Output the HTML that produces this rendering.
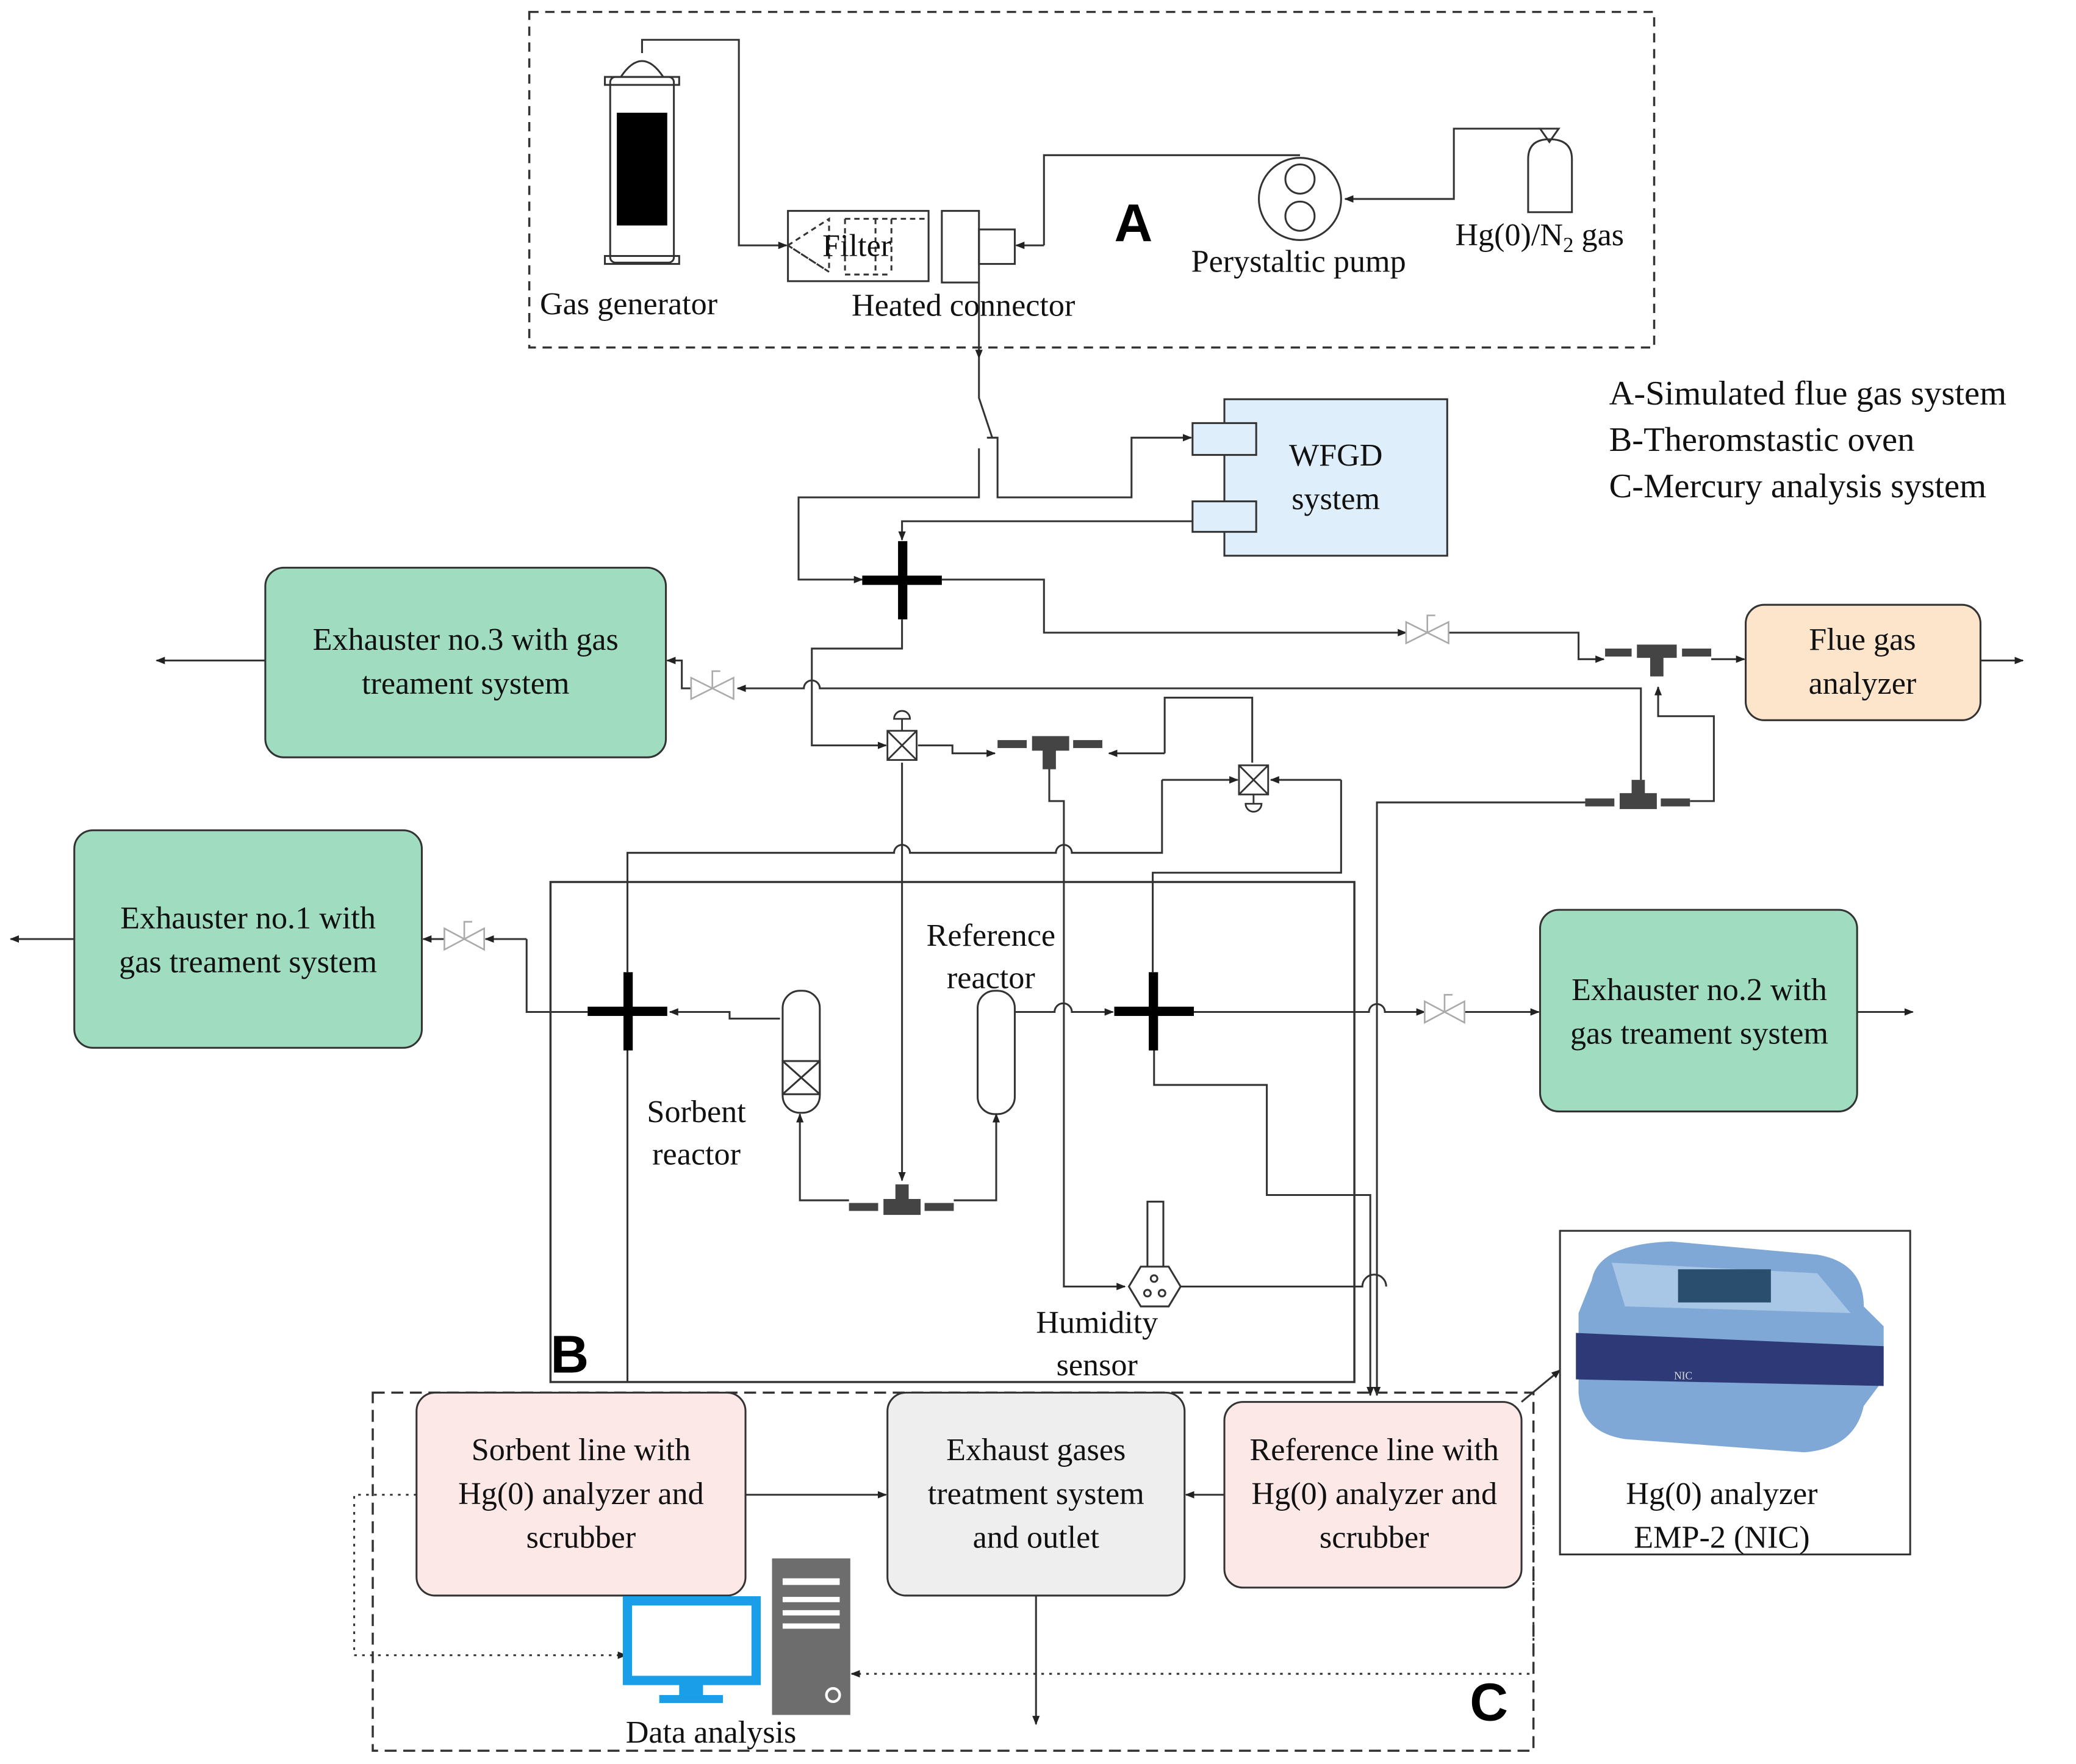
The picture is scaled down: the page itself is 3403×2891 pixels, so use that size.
<!DOCTYPE html>
<html><head><meta charset="utf-8"><style>
html,body{margin:0;padding:0;background:#fff;}
svg{display:block;}
.t text{font-family:"Liberation Serif","DejaVu Serif",serif;fill:#111;}
</style></head><body>
<svg width="3403" height="2891" viewBox="0 0 1565 1330" preserveAspectRatio="none" xmlns="http://www.w3.org/2000/svg">
<defs>
<marker id="a" viewBox="0 0 10 10" refX="9" refY="5" markerWidth="7" markerHeight="7" orient="auto" markerUnits="userSpaceOnUse"><path d="M0,1 L10,5 L0,9 z" fill="#222"/></marker>
</defs>
<g fill="none" stroke="#333" stroke-width="1.4">
<rect x="399" y="9" width="848" height="253" stroke-dasharray="7,5" stroke-width="1.6"/>
<rect x="460" y="58" width="48" height="140" rx="4"/>
<path d="M468,58 Q484,34 500,58"/>
<rect x="456" y="58" width="56" height="6"/><rect x="456" y="193" width="56" height="6"/>
<path d="M484,40 L484,30 L557,30 L557,185 L593,185" marker-end="url(#a)"/>
<rect x="594" y="159" width="106" height="53"/>
<path d="M594,185 L625,165 L625,205 Z M594,185 L625,205" stroke-dasharray="4,3"/>
<path d="M637,165 L637,207 M660,165 L660,207 M672,165 L672,207 M637,165 L700,165 M637,207 L672,207" stroke-dasharray="4,3"/>
<rect x="710" y="159" width="28" height="54"/>
<rect x="738" y="173" width="27" height="26"/>
<path d="M787,185 L766,185" marker-end="url(#a)"/>
<path d="M787,185 L787,117 L980,117"/>
<circle cx="980" cy="150" r="31"/>
<circle cx="980" cy="135" r="11"/><circle cx="980" cy="163" r="11"/>
<path d="M1152,160 L1152,120 Q1152,105 1168,105 Q1185,105 1185,120 L1185,160 Z"/>
<path d="M1161,97 L1175,97 L1168,107 Z"/>
<path d="M1161,97 L1096,97 L1096,150 L1014,150" marker-end="url(#a)"/>
<path d="M738,213 L738,270" marker-end="url(#a)"/>
<path d="M738,270 L738,300 L748,330"/>
<path d="M744,330 L752,330 L752,375 L853,375 L853,330 L898,330" marker-end="url(#a)"/>
<path d="M738,338 L738,375 L602,375 L602,437 L650,437" marker-end="url(#a)"/>
<rect x="923" y="301" width="168" height="118" fill="#deeefa"/>
<rect x="899" y="319" width="48" height="24" fill="#deeefa"/>
<rect x="899" y="378" width="48" height="23" fill="#deeefa"/>
<path d="M899,393 L680,393 L680,407" marker-end="url(#a)"/>
<path d="M710,437 L787,437 L787,477 L1060,477" marker-end="url(#a)"/>
<path d="M1092,477 L1190,477 L1190,497 L1209,497" marker-end="url(#a)"/>
<path d="M1290,497 L1315,497" marker-end="url(#a)"/>
<path d="M1493,498 L1525,498" marker-end="url(#a)"/>
<path d="M1237,588 L1237,519 L618,519 A6,6 0 0 0 606,519 L556,519" marker-end="url(#a)"/>
<path d="M521,519 L514,519 L514,498 L503,498" marker-end="url(#a)"/>
<path d="M200,498 L118,498" marker-end="url(#a)"/>
<path d="M680,467 L680,489 L612,489 L612,562 L668,562" marker-end="url(#a)"/>
<path d="M692,562 L718,562 L718,568 L750,568" marker-end="url(#a)"/>
<path d="M878,568 L878,526 L944,526 L944,575"/>
<path d="M878,568 L836,568" marker-end="url(#a)"/>
<path d="M791,578 L791,604 L802,604 L802,970 L848,970" marker-end="url(#a)"/>
<path d="M1011,588 L958,588" marker-end="url(#a)"/>
<path d="M1011,588 L1011,658 L869,658 L869,733"/>
<path d="M876,588 L933,588" marker-end="url(#a)"/>
<path d="M876,588 L876,643 L808,643 A6,6 0 0 0 796,643 L686,643 A6,6 0 0 0 674,643 L473,643 L473,733"/>
<path d="M680,575 L680,890" marker-end="url(#a)"/>
<path d="M1274,604 L1292,604 L1292,540 L1250,540 L1250,518" marker-end="url(#a)"/>
<path d="M1195,605 L1038,605 L1038,1052" marker-end="url(#a)"/>
<rect x="415" y="665" width="606" height="377" stroke-width="1.6"/>
<path d="M56,708 L8,708" marker-end="url(#a)"/>
<path d="M397,708 L366,708" marker-end="url(#a)"/>
<path d="M335,708 L319,708" marker-end="url(#a)"/>
<path d="M397,708 L397,763 L443,763"/>
<path d="M473,792 L473,1042"/>
<path d="M588,768 L550,768 L550,763 L505,763" marker-end="url(#a)"/>
<rect x="590" y="747" width="28" height="92" rx="13"/>
<rect x="590" y="800" width="28" height="25"/><path d="M590,800 L618,825 M618,800 L590,825"/>
<rect x="737" y="747" width="28" height="93" rx="13"/>
<path d="M765,763 L795,763 A6,6 0 0 1 808,763 L839,763" marker-end="url(#a)"/>
<path d="M640,905 L603,905 L603,840" marker-end="url(#a)"/>
<path d="M719,905 L751,905 L751,840" marker-end="url(#a)"/>
<path d="M900,763 L1032,763 A6,6 0 0 1 1044,763 L1074,763" marker-end="url(#a)"/>
<path d="M1104,763 L1160,763" marker-end="url(#a)"/>
<path d="M1400,763 L1442,763" marker-end="url(#a)"/>
<path d="M870,792 L870,818 L955,818 L955,901 L1033,901 L1033,1052" marker-end="url(#a)"/>
<rect x="865" y="906" width="12" height="50"/>
<path d="M851,970 L860,955 L881,955 L890,970 L881,985 L860,985 Z" fill="#fff"/>
<circle cx="870" cy="964" r="2.5"/><circle cx="865" cy="975" r="2.5"/><circle cx="876" cy="975" r="2.5"/>
<path d="M890,970 L1027,970 A6,6 0 0 1 1045,970"/>
<rect x="281" y="1050" width="875" height="270" stroke-dasharray="9,5" stroke-width="1.6"/>
<rect x="314" y="1050" width="248" height="153" rx="14" fill="#fde8e8"/>
<rect x="669" y="1050" width="224" height="153" rx="14" fill="#eeeeee"/>
<rect x="923" y="1057" width="224" height="140" rx="14" fill="#fde8e8"/>
<path d="M562,1127 L668,1127" marker-end="url(#a)"/>
<path d="M923,1127 L894,1127" marker-end="url(#a)"/>
<path d="M781,1203 L781,1300" marker-end="url(#a)"/>
<path d="M314,1127 L267,1127 L267,1248 L472,1248" stroke-dasharray="2,4" marker-end="url(#a)"/>
<path d="M1156,1127 L1156,1262 L642,1262" stroke-dasharray="2,4" marker-end="url(#a)"/>
<path d="M1147,1057 L1176,1033" marker-end="url(#a)"/>
<rect x="1176" y="928" width="264" height="244"/>
<rect x="200" y="428" width="302" height="143" rx="14" fill="#9fdcc0"/>
<rect x="56" y="626" width="262" height="164" rx="14" fill="#9fdcc0"/>
<rect x="1161" y="686" width="239" height="152" rx="14" fill="#9fdcc0"/>
<rect x="1316" y="456" width="177" height="87" rx="14" fill="#fde5cc"/>
</g>
<rect x="465" y="85" width="38" height="85" fill="#000"/>
<g fill="#000">
<rect x="650" y="434" width="60" height="7"/><rect x="677" y="408" width="7" height="59"/>
<rect x="443" y="759" width="60" height="7"/><rect x="470" y="733" width="7" height="59"/>
<rect x="840" y="759" width="60" height="7"/><rect x="866" y="733" width="7" height="59"/>
</g>
<g fill="#444">
<rect x="1210" y="489" width="20" height="6"/><rect x="1234" y="486" width="30" height="10"/><rect x="1268" y="489" width="22" height="6"/><rect x="1244" y="494" width="10" height="16"/>
<rect x="1195" y="602" width="22" height="6"/><rect x="1221" y="598" width="28" height="12"/><rect x="1252" y="602" width="22" height="6"/><rect x="1230" y="588" width="10" height="12"/>
<rect x="752" y="558" width="22" height="6"/><rect x="778" y="555" width="28" height="11"/><rect x="809" y="558" width="22" height="6"/><rect x="786" y="564" width="10" height="16"/>
<rect x="640" y="907" width="22" height="6"/><rect x="666" y="904" width="28" height="12"/><rect x="697" y="907" width="22" height="6"/><rect x="675" y="893" width="10" height="12"/>
</g>
<g fill="#fff" stroke="#aaa" stroke-width="1.2">
<path d="M1060,469 L1076,477 L1060,485 Z M1092,469 L1076,477 L1092,485 Z M1076,477 L1076,464 L1082,464"/>
<path d="M521,511 L537,519 L521,527 Z M553,511 L537,519 L553,527 Z M537,519 L537,506 L543,506"/>
<path d="M335,700 L350,708 L335,716 Z M365,700 L350,708 L365,716 Z M350,708 L350,695 L356,695"/>
<path d="M1074,755 L1089,763 L1074,771 Z M1104,755 L1089,763 L1104,771 Z M1089,763 L1089,750 L1095,750"/>
</g>
<g fill="#fff" stroke="#333" stroke-width="1.3">
<rect x="669" y="551" width="22" height="22"/><path d="M669,551 L691,573 M691,551 L669,573"/>
<path d="M680,551 L680,542"/><path d="M674,542 A6,6 0 0 1 686,542 Z"/>
<rect x="934" y="577" width="22" height="22"/><path d="M934,577 L956,599 M956,577 L934,599"/>
<path d="M945,599 L945,606"/><path d="M939,606 A6,6 0 0 0 951,606 Z"/>
</g>
<rect x="473" y="1207" width="97" height="60" fill="#fff" stroke="#1a9ee8" stroke-width="7"/>
<rect x="512" y="1268" width="18" height="10" fill="#1a9ee8"/><rect x="497" y="1278" width="48" height="6" fill="#1a9ee8"/>
<rect x="582" y="1175" width="59" height="118" fill="#6d6d6d"/>
<rect x="590" y="1190" width="43" height="5" fill="#fff"/><rect x="590" y="1204" width="43" height="4" fill="#fff"/><rect x="590" y="1214" width="43" height="4" fill="#fff"/><rect x="590" y="1224" width="43" height="4" fill="#fff"/>
<circle cx="628" cy="1278" r="5" fill="none" stroke="#fff" stroke-width="2"/>
<path d="M1200,965 Q1205,938 1260,936 L1370,946 Q1405,952 1405,985 L1420,1000 L1420,1040 L1405,1060 Q1398,1092 1360,1095 L1225,1085 Q1192,1080 1190,1050 L1190,990 Z" fill="#7fa8d6"/>
<path d="M1215,952 L1370,960 L1395,990 L1225,985 Z" fill="#a8c6e6"/>
<rect x="1265" y="957" width="70" height="25" fill="#2a4f6e"/>
<path d="M1188,1005 L1420,1015 L1420,1045 L1188,1040 Z" fill="#2e3a78"/>
<g class="t">
<text x="1262" y="1040" font-size="8" style="fill:#ddd">NIC</text>
<g font-size="24">
<text x="407" y="237">Gas generator</text>
<text x="620" y="193">Filter</text>
<text x="642" y="238">Heated connector</text>
<text x="898" y="205">Perystaltic pump</text>
<text x="1097" y="185">Hg(0)/N<tspan font-size="16" dy="5">2</tspan><tspan dy="-5"> gas</tspan></text>
<text x="1213" y="305" font-size="26">A-Simulated flue gas system</text>
<text x="1213" y="340" font-size="26">B-Theromstastic oven</text>
<text x="1213" y="375" font-size="26">C-Mercury analysis system</text>
<text x="1007" y="351" text-anchor="middle">WFGD</text>
<text x="1007" y="384" text-anchor="middle">system</text>
<text x="351" y="490" text-anchor="middle">Exhauster no.3 with gas</text>
<text x="351" y="523" text-anchor="middle">treament system</text>
<text x="1404" y="490" text-anchor="middle">Flue gas</text>
<text x="1404" y="523" text-anchor="middle">analyzer</text>
<text x="187" y="700" text-anchor="middle">Exhauster no.1 with</text>
<text x="187" y="733" text-anchor="middle">gas treament system</text>
<text x="1281" y="754" text-anchor="middle">Exhauster no.2 with</text>
<text x="1281" y="787" text-anchor="middle">gas treament system</text>
<text x="747" y="713" text-anchor="middle">Reference</text>
<text x="747" y="745" text-anchor="middle">reactor</text>
<text x="525" y="846" text-anchor="middle">Sorbent</text>
<text x="525" y="878" text-anchor="middle">reactor</text>
<text x="827" y="1005" text-anchor="middle">Humidity</text>
<text x="827" y="1037" text-anchor="middle">sensor</text>
<text x="438" y="1101" text-anchor="middle">Sorbent line with</text>
<text x="438" y="1134" text-anchor="middle">Hg(0) analyzer and</text>
<text x="438" y="1167" text-anchor="middle">scrubber</text>
<text x="781" y="1101" text-anchor="middle">Exhaust gases</text>
<text x="781" y="1134" text-anchor="middle">treatment system</text>
<text x="781" y="1167" text-anchor="middle">and outlet</text>
<text x="1036" y="1101" text-anchor="middle">Reference line with</text>
<text x="1036" y="1134" text-anchor="middle">Hg(0) analyzer and</text>
<text x="1036" y="1167" text-anchor="middle">scrubber</text>
<text x="1298" y="1134" text-anchor="middle">Hg(0) analyzer</text>
<text x="1298" y="1167" text-anchor="middle">EMP-2 (NIC)</text>
<text x="536" y="1314" text-anchor="middle">Data analysis</text>
</g>
</g>
<g font-weight="bold" font-size="40" style="font-family:'Liberation Sans','DejaVu Sans',sans-serif" fill="#000">
<text x="840" y="182">A</text>
<text x="415" y="1035">B</text>
<text x="1108" y="1297">C</text>
</g>
</svg>
</body></html>
